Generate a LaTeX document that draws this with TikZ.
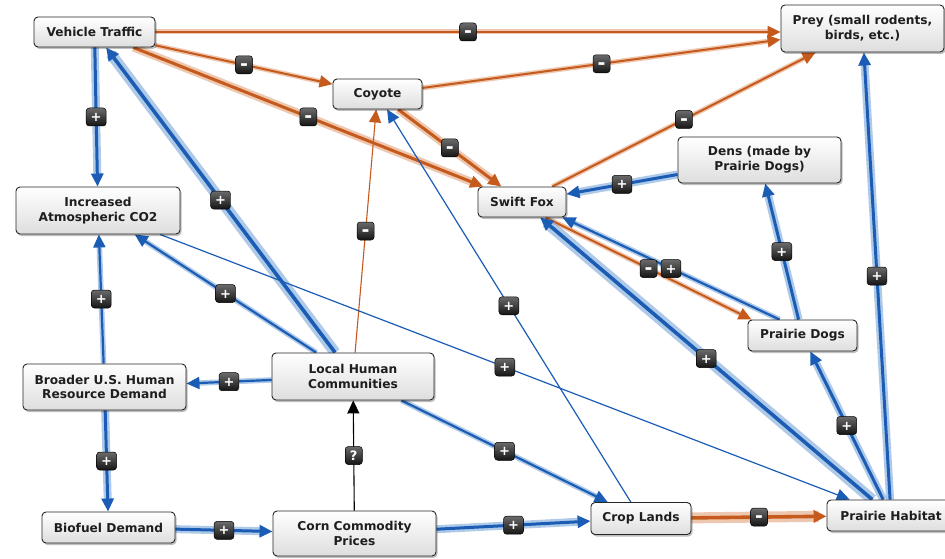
\documentclass[tikz,border=0pt]{standalone}
\usepackage{fontspec}
\setmainfont{DejaVu Sans}
\usetikzlibrary{arrows.meta,shadows}

\definecolor{linkblue}{HTML}{1B5DB4}
\definecolor{glowblue}{HTML}{6E9ED6}
\definecolor{linkorange}{HTML}{C65A1C}
\definecolor{gloworange}{HTML}{E09A6E}
\definecolor{labeltext}{HTML}{1E1E1E}

\newcommand{\conceptfont}{\fontsize{12.2}{14.8}\selectfont\bfseries}

\pgfdeclarelayer{backdrop}
\pgfdeclarelayer{links}
\pgfsetlayers{backdrop,links,main}

\tikzset{
  concept/.style={draw=black!85, line width=0.9pt, rounded corners=4pt,
    top color=white, bottom color=black!13, text=labeltext, font=\conceptfont,
    align=center, inner sep=1pt,
    drop shadow={shadow xshift=1.5pt, shadow yshift=-2pt, opacity=0.25, fill=black}},
  linkhead/.style={-{Triangle[length=13pt,width=12pt]}},
  blueglow/.style={preaction={draw=glowblue, -, line width=#1, draw opacity=0.55, shorten >=8pt}},
  orangeglow/.style={preaction={draw=gloworange, -, line width=#1, draw opacity=0.55, shorten >=8pt}},
  bluelink/.style={linkhead, draw=linkblue},
  orangelink/.style={linkhead, draw=linkorange},
  plusthin/.style={bluelink, line width=1.2pt},
  plusmid/.style={bluelink, line width=2.2pt, blueglow=5.5pt},
  plusbold/.style={bluelink, line width=3pt, blueglow=8pt},
  plusheavy/.style={bluelink, line width=3.6pt, blueglow=11pt},
  minusthin/.style={orangelink, line width=1.1pt},
  minusmid/.style={orangelink, line width=2pt, orangeglow=5pt},
  minusbold/.style={orangelink, line width=3pt, orangeglow=8pt},
  minusheavy/.style={orangelink, line width=3.6pt, orangeglow=11pt},
  unknownlink/.style={linkhead, draw=black, line width=1.1pt},
  badge/.style={draw=black, line width=0.5pt, rounded corners=3pt,
    top color=black!58, bottom color=black!92, text=white,
    inner xsep=4.5pt, inner ysep=0pt, minimum height=18pt, minimum width=17pt},
  plusbadge/.style={badge, font=\fontsize{13}{13}\selectfont\bfseries,
    text height=9.2pt, text depth=0pt},
  minusbadge/.style={badge, font=\fontsize{19}{19}\selectfont\bfseries,
    text height=11.4pt, text depth=0pt, inner xsep=3pt},
}

\begin{document}
\begin{tikzpicture}[x=1pt,y=-1pt]
\begin{pgfonlayer}{backdrop}
\fill[white] (0,0) rectangle (945,559);
\end{pgfonlayer}
\useasboundingbox (0,0) rectangle (945,559);

% concepts
\node[concept, minimum width=121pt, minimum height=30pt] (vt) at (94.5,32) {Vehicle Traffic};
\node[concept, minimum width=163pt, minimum height=47pt] (prey) at (862.5,28.5) {Prey (small rodents,\\birds, etc.)};
\node[concept, minimum width=89pt, minimum height=30pt] (coyote) at (377.5,94) {Coyote};
\node[concept, minimum width=164pt, minimum height=47pt] (co2) at (98,210.5) {Increased\\Atmospheric CO2};
\node[concept, minimum width=88pt, minimum height=30pt] (fox) at (522,202) {Swift Fox};
\node[concept, minimum width=163pt, minimum height=46pt] (dens) at (759.5,160) {Dens (made by\\Prairie Dogs)};
\node[concept, minimum width=109pt, minimum height=31pt] (dogs) at (802.5,335.5) {Prairie Dogs};
\node[concept, minimum width=162pt, minimum height=47pt] (local) at (353,376.5) {Local Human\\Communities};
\node[concept, minimum width=163pt, minimum height=46pt] (broader) at (104.5,387) {Broader U.S. Human\\Resource Demand};
\node[concept, minimum width=133pt, minimum height=31pt] (biofuel) at (108.5,527.5) {Biofuel Demand};
\node[concept, minimum width=163pt, minimum height=45pt] (corn) at (354.5,533.5) {Corn Commodity\\Prices};
\node[concept, minimum width=100pt, minimum height=32pt] (crops) at (641,518.5) {Crop Lands};
\node[concept, minimum width=128pt, minimum height=31pt] (habitat) at (891,515.5) {Prairie Habitat};

% causal links
\begin{pgfonlayer}{links}
\draw[minusmid] (vt.east) -- coordinate[midway] (m1) (prey.west |- vt.east);
\draw[minusmid] (vt) -- coordinate[midway] (m2) (coyote);
\draw[minusbold] (vt) -- coordinate[midway] (m3) (fox);
\draw[plusbold] (vt) -- coordinate[midway] (m4) (co2);
\draw[plusheavy] (local) -- coordinate[midway] (m5) (vt);
\draw[minusmid] (coyote) -- coordinate[midway] (m6) (prey);
\draw[minusbold] (coyote) -- coordinate[midway] (m7) (fox);
\draw[minusmid] (fox) -- coordinate[midway] (m8) (prey);
\draw[plusbold] (dens) -- coordinate[midway] (m9) (fox);
\draw[plusmid] ([xshift=32pt]dogs.north west) -- coordinate[midway] (m10) ([xshift=-4pt]fox.south east);
\draw[minusmid] ([xshift=-21pt]fox.south east) -- coordinate[midway] (m11) ([xshift=4pt]dogs.north west);
\draw[plusheavy] (habitat) -- coordinate[midway] (m12) (fox);
\draw[plusbold] (habitat) -- coordinate[midway] (m13) (dogs);
\draw[plusbold] (dogs) -- coordinate[midway] (m14) (dens);
\draw[plusbold] (habitat) -- coordinate[midway] (m15) (prey);
\draw[minusthin] (local) -- coordinate[midway] (m16) (coyote);
\draw[plusthin] (crops) -- coordinate[midway] (m17) (coyote);
\draw[plusmid] (local) -- coordinate[midway] (m18) (co2);
\draw[plusthin] (co2) -- coordinate[midway] (m19) (habitat);
\draw[plusmid] (broader) -- coordinate[midway] (m20) (co2);
\draw[plusmid] (local) -- coordinate[midway] (m21) (broader);
\draw[plusbold] (broader) -- coordinate[midway] (m22) (biofuel);
\draw[plusbold] (biofuel) -- coordinate[midway] (m23) (corn);
\draw[unknownlink] (corn) -- coordinate[midway] (m24) (local);
\draw[plusbold] (corn) -- coordinate[midway] (m25) (crops);
\draw[plusmid] (local) -- coordinate[midway] (m26) (crops);
\draw[minusheavy] (crops) -- coordinate[midway] (m27) (habitat);
\end{pgfonlayer}

% polarity badges
\foreach \k in {1,2,3,6,7,8,11,16,27}
  \node[minusbadge] (b\k) at (m\k) {-};
\foreach \k in {4,5,9,10,12,13,14,15,17,18,19,20,21,22,23,25,26}
  \node[plusbadge] (b\k) at (m\k) {+};
\node[plusbadge] (b24) at (m24) {?};
\end{tikzpicture}
\end{document}
